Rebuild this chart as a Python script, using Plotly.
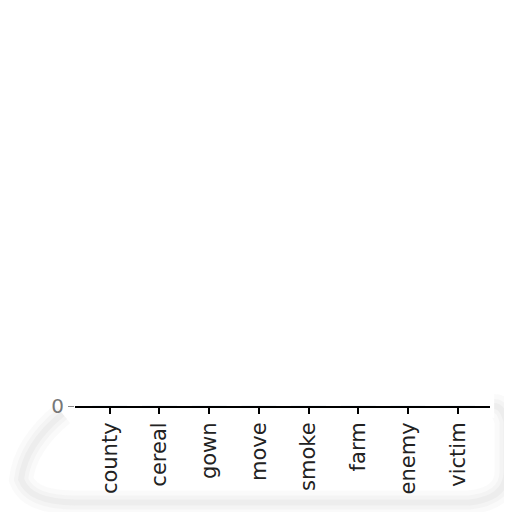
import plotly.graph_objects as go

# categories along the x axis, every bar sits at zero
categories = ["county", "cereal", "gown", "move", "smoke", "farm", "enemy", "victim"]
values = [0, 0, 0, 0, 0, 0, 0, 0]
y_ticks = [0]
y_tick_labels = ["0"]

fig = go.Figure(
    go.Bar(
        x=categories,
        y=values,
        marker_color="#1f77b4",
        showlegend=False,
    )
)

# faint smudged frame under the axis (paper coords of the plot area)
smudge = (
    "M -0.03,-0.02 Q -0.12,-0.10 -0.13,-0.19 Q -0.11,-0.25 0.00,-0.25 "
    "L 0.95,-0.25 Q 1.04,-0.24 1.04,-0.17 L 1.04,-0.04 Q 1.03,0.00 1.01,0.00"
)
smudge_layers = [(24, 0.035), (14, 0.04), (6, 0.05)]

fig.update_layout(
    width=512,
    height=512,
    paper_bgcolor="white",
    plot_bgcolor="white",
    margin=dict(l=67, r=30, t=12, b=114),
    font=dict(family="DejaVu Sans", size=21, color="#222222"),
    bargap=0.3,
    shapes=[
        dict(type="path", path=smudge, xref="paper", yref="paper",
             line=dict(color=f"rgba(110,110,110,{a})", width=w), layer="below")
        for w, a in smudge_layers
    ],
)

fig.update_xaxes(
    range=[-0.7, 7.65],
    showline=True,
    linecolor="black",
    linewidth=2,
    ticks="outside",
    ticklen=6,
    tickwidth=1.5,
    tickcolor="black",
    tickangle=-90,
    tickfont=dict(size=21, color="#222222"),
    showgrid=False,
    zeroline=False,
)

fig.update_yaxes(
    range=[0, 1],
    tickvals=y_ticks,
    ticktext=y_tick_labels,
    ticks="outside",
    ticklen=6,
    tickcolor="#888888",
    tickfont=dict(size=20, color="#777777"),
    showline=False,
    showgrid=False,
    zeroline=False,
)

fig.write_html("out.html")
